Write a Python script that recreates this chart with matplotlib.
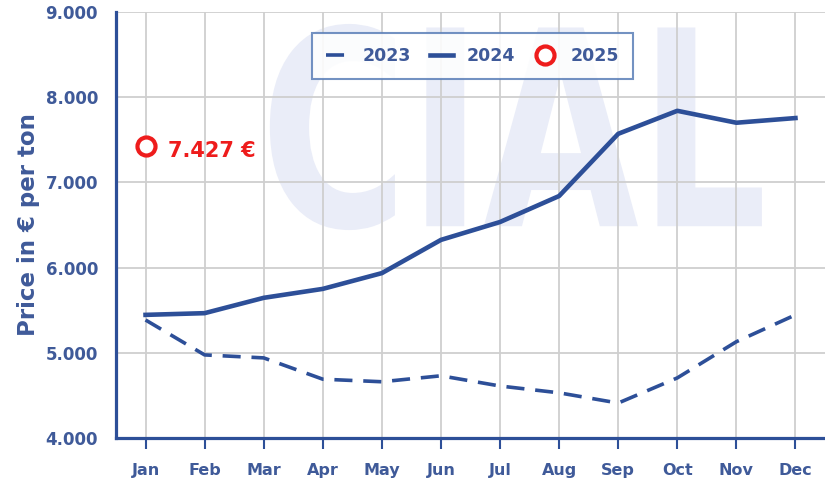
import matplotlib.pyplot as plt
import numpy as np
from matplotlib.textpath import TextPath
from matplotlib.patches import PathPatch
from matplotlib.font_manager import FontProperties
from matplotlib.transforms import Affine2D

months = ['Jan', 'Feb', 'Mar', 'Apr', 'May', 'Jun', 'Jul', 'Aug', 'Sep', 'Oct', 'Nov', 'Dec']
price_2023 = [5385, 4975, 4940, 4690, 4660, 4730, 4610, 4530, 4410, 4705, 5130, 5445]
price_2024 = [5445, 5465, 5645, 5750, 5935, 6325, 6535, 6840, 7570, 7840, 7700, 7755]
price_2025 = [7427]

blue = '#2d4f98'
label_blue = '#3f5a99'
red = '#ee1c1c'

fig = plt.figure(figsize=(8.25, 4.83), dpi=100)
ax = fig.add_axes([0.1406, 0.0932, 0.8594, 0.8820])

x = np.arange(len(months))
ax.set_xlim(-0.5, 11.5)
ax.set_ylim(4000, 9000)

# watermark logo, stretched into its box (axes fraction)
tp = TextPath((0, 0), 'CIAL', size=1, prop=FontProperties(family='DejaVu Sans', weight='bold'))
ext = tp.get_extents()
x0, x1, y0, y1 = 0.217, 0.911, 0.488, 0.972
tr = (Affine2D().translate(-ext.x0, -ext.y0)
      .scale((x1 - x0) / ext.width, (y1 - y0) / ext.height)
      .translate(x0, y0))
ax.add_patch(PathPatch(tr.transform_path(tp), transform=ax.transAxes,
                       facecolor='#eaedf8', edgecolor='none', zorder=0.1))

ax.plot(x, price_2023, color=blue, lw=2.6, ls=(0, (5, 3)), label='2023', zorder=3)
ax.plot(x, price_2024, color=blue, lw=3.3, label='2024', zorder=3)
ax.plot(x[:len(price_2025)], price_2025, ls='none', marker='o', ms=13, mfc='white',
        mec=red, mew=3, label='2025', zorder=4)
ax.text(0.38, price_2025[0] - 60, '7.427 €', color=red, fontsize=15, fontweight='bold',
        va='center', ha='left')

ax.set_xticks(x)
ax.set_xticklabels(months)
ax.set_yticks(np.arange(4000, 9001, 1000))
ax.set_yticklabels([f'{v // 1000}.000' for v in range(4000, 9001, 1000)])
ax.grid(True, color='#cfcfcf', lw=1.3)
ax.set_axisbelow(True)

for s in ['top', 'right']:
    ax.spines[s].set_visible(False)
for s in ['left', 'bottom']:
    ax.spines[s].set_color(blue)
    ax.spines[s].set_linewidth(2.3)
    ax.spines[s].set_zorder(5)

ax.tick_params(axis='x', colors=blue, length=8, width=1.5, pad=10, labelcolor=label_blue)
ax.tick_params(axis='y', length=0, pad=13, labelcolor=label_blue)
for lbl in ax.get_xticklabels():
    lbl.set_fontweight('bold')
    lbl.set_fontsize(11.5)
for lbl in ax.get_yticklabels():
    lbl.set_fontweight('bold')
    lbl.set_fontsize(12)
ax.set_ylabel('Price in € per ton', color=label_blue, fontsize=16.5, fontweight='bold', labelpad=4)

leg = ax.legend(loc='upper center', bbox_to_anchor=(0.503, 0.951), ncol=3, frameon=True,
                fancybox=False, edgecolor='#5b7fb8', handlelength=1.3, columnspacing=1.1,
                handletextpad=0.8, borderpad=0.8, borderaxespad=0, framealpha=0.85,
                prop={'weight': 'bold', 'size': 12.5})
leg.get_frame().set_linewidth(1.5)
for t in leg.get_texts():
    t.set_color(label_blue)

fig.savefig('out.png', dpi=100)
